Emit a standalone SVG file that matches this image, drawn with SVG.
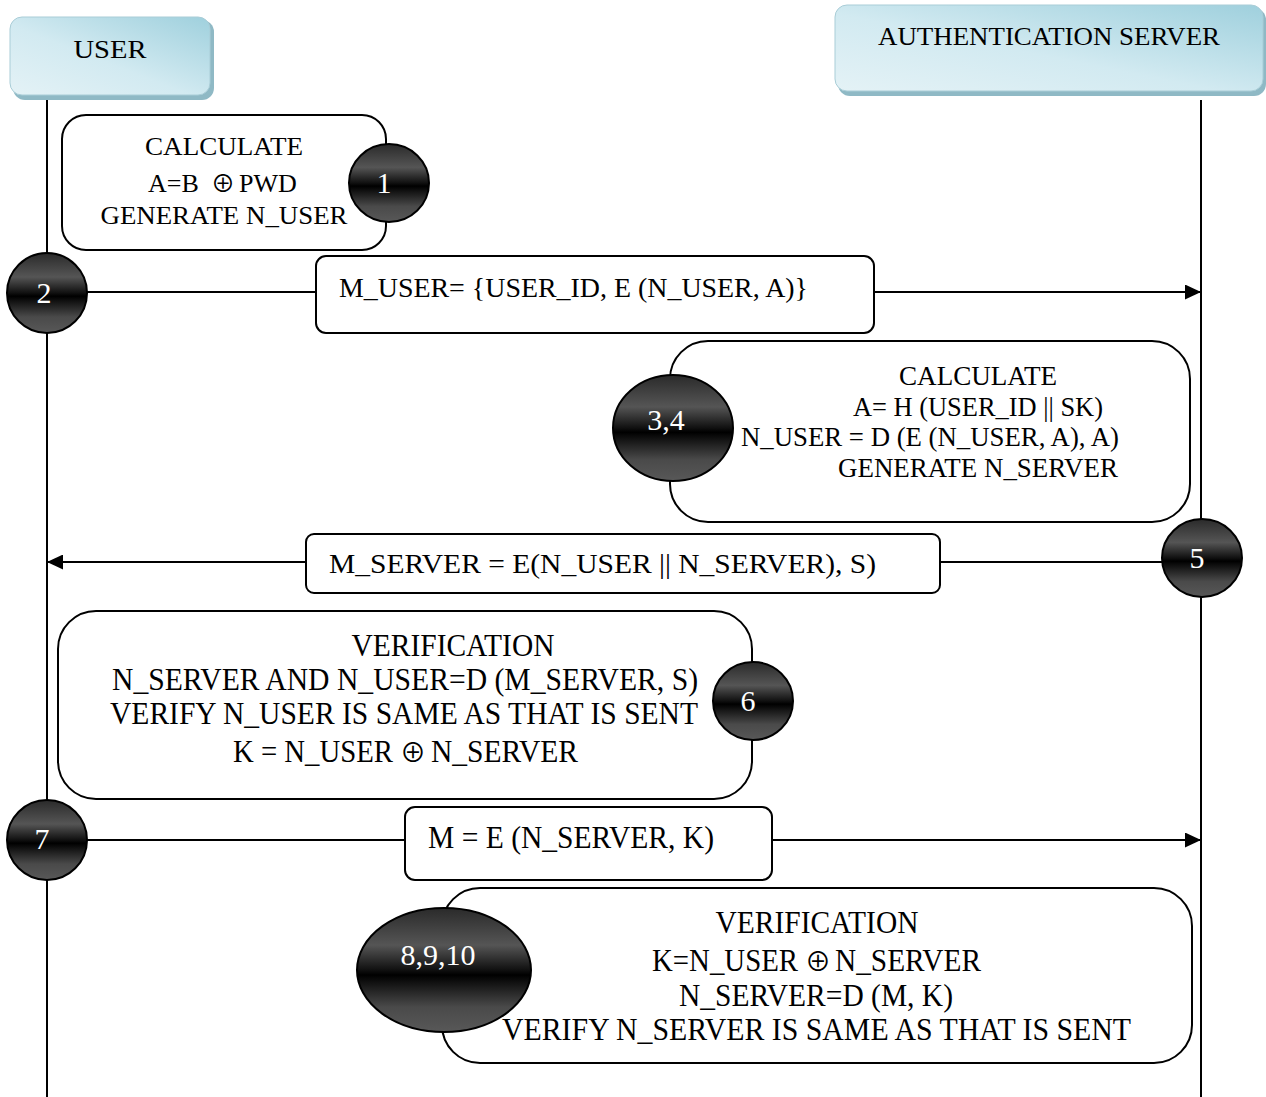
<svg xmlns="http://www.w3.org/2000/svg" width="1266" height="1097" viewBox="0 0 1266 1097">
  <defs>
    <linearGradient id="hdr" x1="0" y1="1" x2="1" y2="0">
      <stop offset="0" stop-color="#e4f2f6"/>
      <stop offset="0.45" stop-color="#d2eaf1"/>
      <stop offset="1" stop-color="#9fd0dd"/>
    </linearGradient>
    <linearGradient id="ball" x1="0" y1="0" x2="0" y2="1">
      <stop offset="0" stop-color="#2a2a2a"/>
      <stop offset="0.3" stop-color="#555555"/>
      <stop offset="0.5" stop-color="#101010"/>
      <stop offset="0.54" stop-color="#000000"/>
      <stop offset="0.8" stop-color="#4a4a4a"/>
      <stop offset="1" stop-color="#585858"/>
    </linearGradient>
    <marker id="arrow" viewBox="0 0 16 15" refX="16" refY="7.5" markerWidth="16" markerHeight="15" markerUnits="userSpaceOnUse" orient="auto">
      <path d="M0,0 L16,7.5 L0,15 Z" fill="#000"/>
    </marker>
  </defs>
  <style>
    text { font-family: "Liberation Serif", "Times New Roman", "DejaVu Serif", serif; fill: #000; }
    .sym { font-family: "Noto Sans CJK JP", "DejaVu Sans", sans-serif; }
    .hdr-shadow { fill: #8fb9c5; }
    .hdr { fill: url(#hdr); stroke: #a9cdd7; stroke-width: 1; }
    .life { stroke: #000; stroke-width: 2; fill: none; }
    .box { fill: #fff; stroke: #000; stroke-width: 2; }
    .msg { stroke: #000; stroke-width: 2; fill: none; }
    .ball { fill: url(#ball); stroke: #000; stroke-width: 2; }
    .t { font-size: 28px; }
    .h { font-size: 26px; }
    .n { font-size: 30px; fill: #fff; text-anchor: middle; }
    .big { font-size: 31px; }
  </style>

  <!-- lifelines -->
  <g id="lifelines">
    <line class="life" x1="47" y1="93" x2="47" y2="1097"/>
    <line class="life" x1="1201" y1="100" x2="1201" y2="1097"/>
  </g>

  <!-- participants -->
  <g id="user">
    <rect class="hdr-shadow" x="13" y="20" width="201" height="80" rx="12"/>
    <rect class="hdr" x="10" y="17" width="200" height="78" rx="12"/>
    <text class="h" x="110" y="58" text-anchor="middle" textLength="73" lengthAdjust="spacingAndGlyphs">USER</text>
  </g>
  <g id="server">
    <rect class="hdr-shadow" x="838" y="8" width="428" height="88" rx="12"/>
    <rect class="hdr" x="835" y="5" width="428" height="86" rx="12"/>
    <text class="h" x="1049" y="45" text-anchor="middle" textLength="342" lengthAdjust="spacingAndGlyphs">AUTHENTICATION SERVER</text>
  </g>

  <!-- message connectors -->
  <g id="connectors">
    <line class="msg" x1="87" y1="292" x2="1201" y2="292" marker-end="url(#arrow)"/>
    <line class="msg" x1="1162" y1="562" x2="47" y2="562" marker-end="url(#arrow)"/>
    <line class="msg" x1="87" y1="840" x2="1201" y2="840" marker-end="url(#arrow)"/>
  </g>

  <!-- step 1 -->
  <g id="step1">
    <rect class="box" x="62" y="115" width="324" height="135" rx="24"/>
    <text class="h" x="224" y="155" text-anchor="middle" textLength="158" lengthAdjust="spacingAndGlyphs">CALCULATE</text>
    <text class="h" y="192"><tspan x="148">A=B</tspan><tspan class="sym" x="211" font-size="24">⊕</tspan><tspan x="239">PWD</tspan></text>
    <text class="h" x="224" y="224" text-anchor="middle" textLength="247" lengthAdjust="spacingAndGlyphs">GENERATE N_USER</text>
    <ellipse class="ball" cx="389" cy="183" rx="40" ry="39"/>
    <text class="n" x="384" y="193">1</text>
  </g>

  <!-- step 2 -->
  <g id="step2">
    <rect class="box" x="316" y="256" width="558" height="77" rx="10"/>
    <text class="t" x="339" y="297" textLength="469" lengthAdjust="spacingAndGlyphs">M_USER= {USER_ID, E (N_USER, A)}</text>
    <ellipse class="ball" cx="47" cy="293" rx="40" ry="40"/>
    <text class="n" x="44" y="303">2</text>
  </g>

  <!-- steps 3 and 4 -->
  <g id="step34">
    <rect class="box" x="670" y="341" width="520" height="181" rx="38"/>
    <text class="t" x="899" y="385" textLength="158" lengthAdjust="spacingAndGlyphs">CALCULATE</text>
    <text class="t" x="853" y="416" textLength="250" lengthAdjust="spacingAndGlyphs">A= H (USER_ID || SK)</text>
    <text class="t" x="741" y="446" textLength="378" lengthAdjust="spacingAndGlyphs">N_USER = D (E (N_USER, A), A)</text>
    <text class="t" x="838" y="477" textLength="280" lengthAdjust="spacingAndGlyphs">GENERATE N_SERVER</text>
    <ellipse class="ball" cx="673" cy="428" rx="60" ry="53"/>
    <text class="n" x="666" y="430">3,4</text>
  </g>

  <!-- step 5 -->
  <g id="step5">
    <rect class="box" x="306" y="534" width="634" height="59" rx="8"/>
    <text class="t" x="329" y="573" textLength="547" lengthAdjust="spacingAndGlyphs">M_SERVER = E(N_USER || N_SERVER), S)</text>
    <ellipse class="ball" cx="1202" cy="558" rx="40" ry="39"/>
    <text class="n" x="1197" y="568">5</text>
  </g>

  <!-- step 6 -->
  <g id="step6">
    <rect class="box" x="58" y="611" width="694" height="188" rx="38"/>
    <text class="big" x="453" y="656" text-anchor="middle" textLength="203" lengthAdjust="spacingAndGlyphs">VERIFICATION</text>
    <text class="big" x="112" y="690" textLength="586" lengthAdjust="spacingAndGlyphs">N_SERVER AND N_USER=D (M_SERVER, S)</text>
    <text class="big" x="110" y="724" textLength="588" lengthAdjust="spacingAndGlyphs">VERIFY N_USER IS SAME AS THAT IS SENT</text>
    <text class="big" y="762"><tspan x="233" textLength="160" lengthAdjust="spacingAndGlyphs">K = N_USER</tspan><tspan class="sym" x="400" font-size="26">⊕</tspan><tspan x="431" textLength="147" lengthAdjust="spacingAndGlyphs">N_SERVER</tspan></text>
    <ellipse class="ball" cx="753" cy="701" rx="40" ry="39"/>
    <text class="n" x="748" y="711">6</text>
  </g>

  <!-- step 7 -->
  <g id="step7">
    <rect class="box" x="405" y="807" width="367" height="73" rx="10"/>
    <text class="big" x="428" y="848" textLength="286" lengthAdjust="spacingAndGlyphs">M = E (N_SERVER, K)</text>
    <ellipse class="ball" cx="47" cy="840" rx="40" ry="40"/>
    <text class="n" x="42" y="849">7</text>
  </g>

  <!-- steps 8, 9 and 10 -->
  <g id="step8910">
    <rect class="box" x="442" y="888" width="750" height="175" rx="38"/>
    <text class="big" x="817" y="933" text-anchor="middle" textLength="203" lengthAdjust="spacingAndGlyphs">VERIFICATION</text>
    <text class="big" y="971"><tspan x="652" textLength="146" lengthAdjust="spacingAndGlyphs">K=N_USER</tspan><tspan class="sym" x="805" font-size="26">⊕</tspan><tspan x="835" textLength="146" lengthAdjust="spacingAndGlyphs">N_SERVER</tspan></text>
    <text class="big" x="679" y="1006" textLength="274" lengthAdjust="spacingAndGlyphs">N_SERVER=D (M, K)</text>
    <text class="big" x="502" y="1040" textLength="629" lengthAdjust="spacingAndGlyphs">VERIFY N_SERVER IS SAME AS THAT IS SENT</text>
    <ellipse class="ball" cx="444" cy="970" rx="87" ry="62"/>
    <text class="n" x="438" y="965">8,9,10</text>
  </g>
</svg>
